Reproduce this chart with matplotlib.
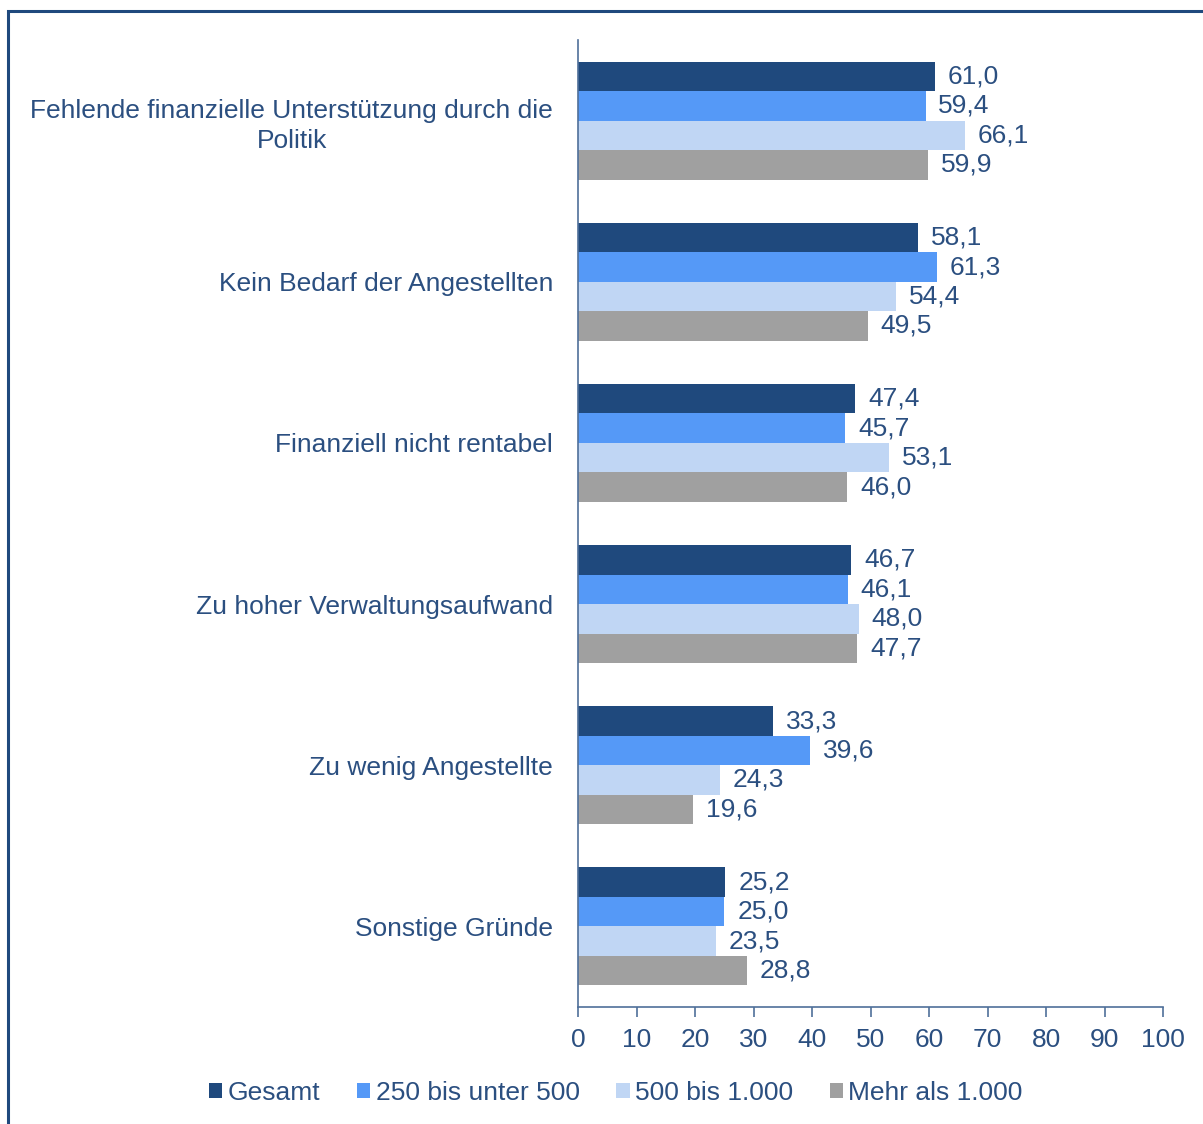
import numpy as np
import matplotlib.pyplot as plt
from matplotlib.patches import Rectangle

categories = ["Fehlende finanzielle Unterstützung durch die\nPolitik",
              "Kein Bedarf der Angestellten",
              "Finanziell nicht rentabel",
              "Zu hoher Verwaltungsaufwand",
              "Zu wenig Angestellte",
              "Sonstige Gründe"]
series = ["Gesamt", "250 bis unter 500", "500 bis 1.000", "Mehr als 1.000"]
gesamt = [61.0, 58.1, 47.4, 46.7, 33.3, 25.2]
klein = [59.4, 61.3, 45.7, 46.1, 39.6, 25.0]
mittel = [66.1, 54.4, 53.1, 48.0, 24.3, 23.5]
gross = [59.9, 49.5, 46.0, 47.7, 19.6, 28.8]
values = [gesamt, klein, mittel, gross]
colors = ["#1F497D", "#5599F7", "#C0D6F4", "#A0A0A0"]
txt = "#2B4F80"
axc = "#4F6F9A"
fs = 19

plt.rcParams['font.family'] = ['Liberation Sans', 'DejaVu Sans']

fig = plt.figure(figsize=(12.03, 11.24), dpi=100)
ax = fig.add_axes([0.4805, 0.1041, 0.4863, 0.8603])

h = 0.183
y = np.arange(len(categories))
for i, (name, vals, c) in enumerate(zip(series, values, colors)):
    pos = y + (i - 1.5) * h
    ax.barh(pos, vals, height=h, color=c, label=name)
    for p, v in zip(pos, vals):
        ax.text(v + 2.2, p, f"{v:.1f}".replace(".", ","), va="center", ha="left",
                fontsize=fs, color=txt)

ax.set_ylim(len(categories) - 0.5, -0.5)
ax.set_xlim(0, 100)
ax.set_xticks(range(0, 101, 10))
ax.set_yticks(y)
ax.set_yticklabels(categories, fontsize=fs, color=txt, ha="right", multialignment="center",
                   linespacing=1.3)
ax.tick_params(axis="y", length=0, pad=18)
ax.tick_params(axis="x", length=7, width=1.2, color=axc, labelcolor=txt, labelsize=fs, pad=8)
for s in ["top", "right"]:
    ax.spines[s].set_visible(False)
for s in ["left", "bottom"]:
    ax.spines[s].set_color(axc)
    ax.spines[s].set_linewidth(1.2)

fig.legend(loc="center", bbox_to_anchor=(0.512, 0.028), ncol=4, frameon=False,
           fontsize=fs, labelcolor=txt, handlelength=0.5, handleheight=0.5,
           handletextpad=0.2, columnspacing=1.4)

fig.patches.append(Rectangle((8 / 1203, -0.01), 1.02, 0.9995 - 10 / 1124 + 0.01,
                             transform=fig.transFigure, fill=False,
                             edgecolor="#1F497D", linewidth=2.2))

fig.savefig("out.png", dpi=100)
